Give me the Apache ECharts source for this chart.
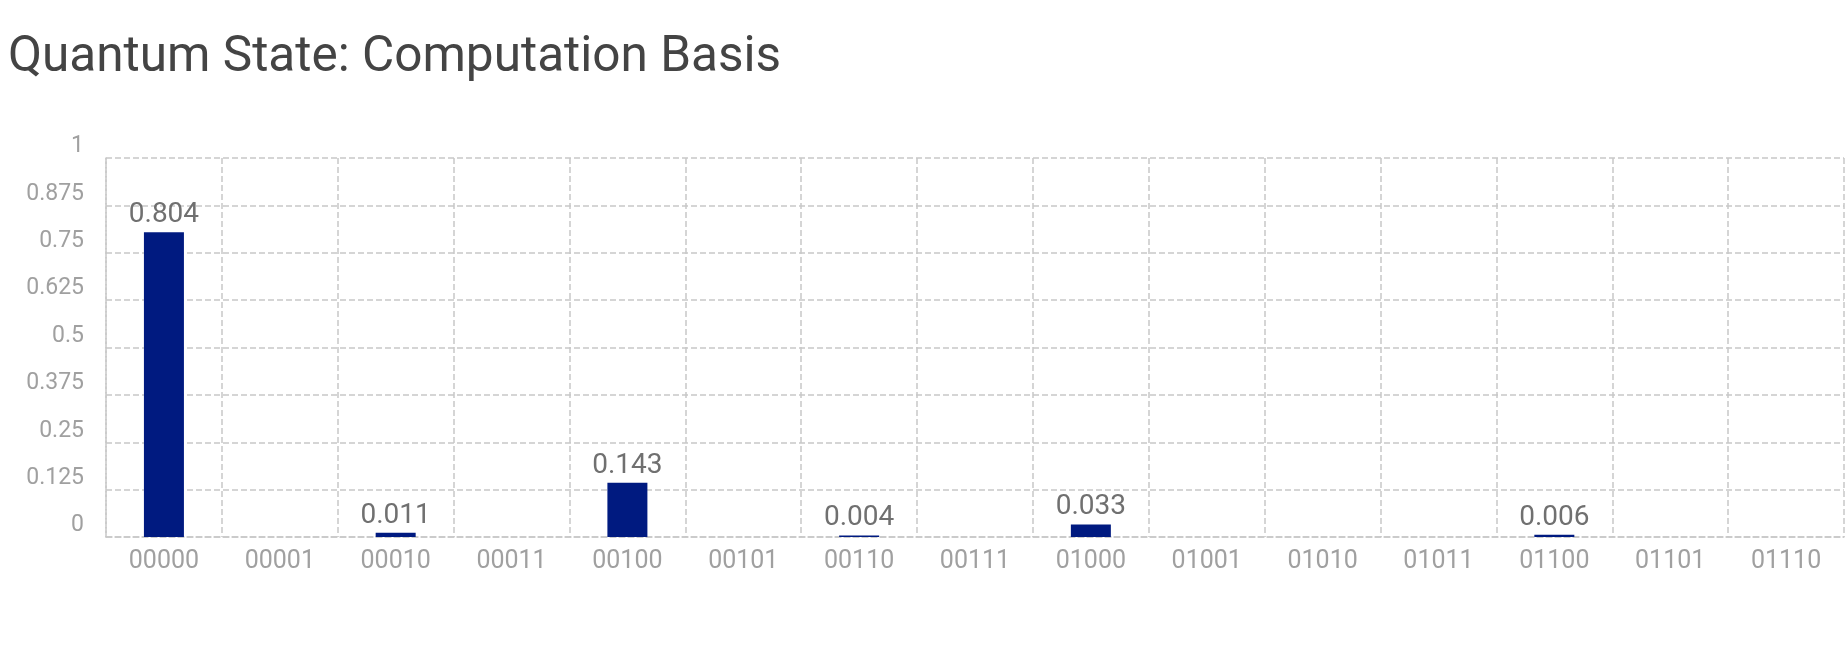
<!DOCTYPE html>
<html>
<head>
<meta charset="utf-8">
<style>
  html, body { margin: 0; padding: 0; background: #ffffff; }
  #chart { width: 1845px; height: 664px; }
</style>
<script src="https://cdn.jsdelivr.net/npm/echarts@6/dist/echarts.min.js"></script>
</head>
<body>
<div id="chart"></div>
<script>
const titleText = 'Quantum State: Computation Basis';
const categories = ['00000', '00001', '00010', '00011', '00100', '00101', '00110', '00111',
                    '01000', '01001', '01010', '01011', '01100', '01101', '01110'];
const probabilities = [0.804, 0, 0.011, 0, 0.143, 0, 0.004, 0, 0.033, 0, 0, 0, 0.006, 0, 0];
const yMin = 0;
const yMax = 1;
const yInterval = 0.125;

const chart = echarts.init(document.getElementById('chart'));
const fontFamily = 'Roboto, "Noto Sans", sans-serif';

chart.setOption({
  animation: false,
  backgroundColor: '#ffffff',
  title: {
    text: titleText,
    left: 3,
    top: 29,
    textStyle: {
      fontFamily: fontFamily,
      fontSize: 49.5,
      fontWeight: 'normal',
      color: '#444444'
    }
  },
  grid: {
    left: 106,
    right: 1,
    top: 158,
    bottom: 127,
    show: false
  },
  xAxis: {
    type: 'category',
    data: categories,
    axisLine: {
      show: true,
      lineStyle: { color: '#c8c8c8', type: 'dashed', width: 1.5 }
    },
    axisTick: { show: false },
    axisLabel: {
      fontFamily: fontFamily,
      fontSize: 25,
      color: '#a0a0a0',
      margin: 12,
      interval: 0
    },
    splitLine: {
      show: true,
      interval: 0,
      lineStyle: { color: '#c8c8c8', type: 'dashed', width: 1.5 }
    }
  },
  yAxis: {
    type: 'value',
    min: yMin,
    max: yMax,
    interval: yInterval,
    axisLine: {
      show: true,
      lineStyle: { color: '#c8c8c8', type: 'dashed', width: 1.5 }
    },
    axisTick: { show: false },
    axisLabel: {
      fontFamily: fontFamily,
      fontSize: 23,
      color: '#a0a0a0',
      margin: 22,
      verticalAlign: 'bottom'
    },
    splitLine: {
      show: true,
      lineStyle: { color: '#c8c8c8', type: 'dashed', width: 1.5 }
    }
  },
  series: [{
    type: 'bar',
    data: probabilities,
    barWidth: 40,
    itemStyle: {
      color: '#001a80'
    },
    label: {
      show: true,
      position: 'top',
      distance: 3,
      fontFamily: fontFamily,
      fontSize: 28,
      color: '#707070',
      formatter: function (p) { return p.value === 0 ? '' : String(p.value); }
    }
  }]
});
</script>
</body>
</html>
